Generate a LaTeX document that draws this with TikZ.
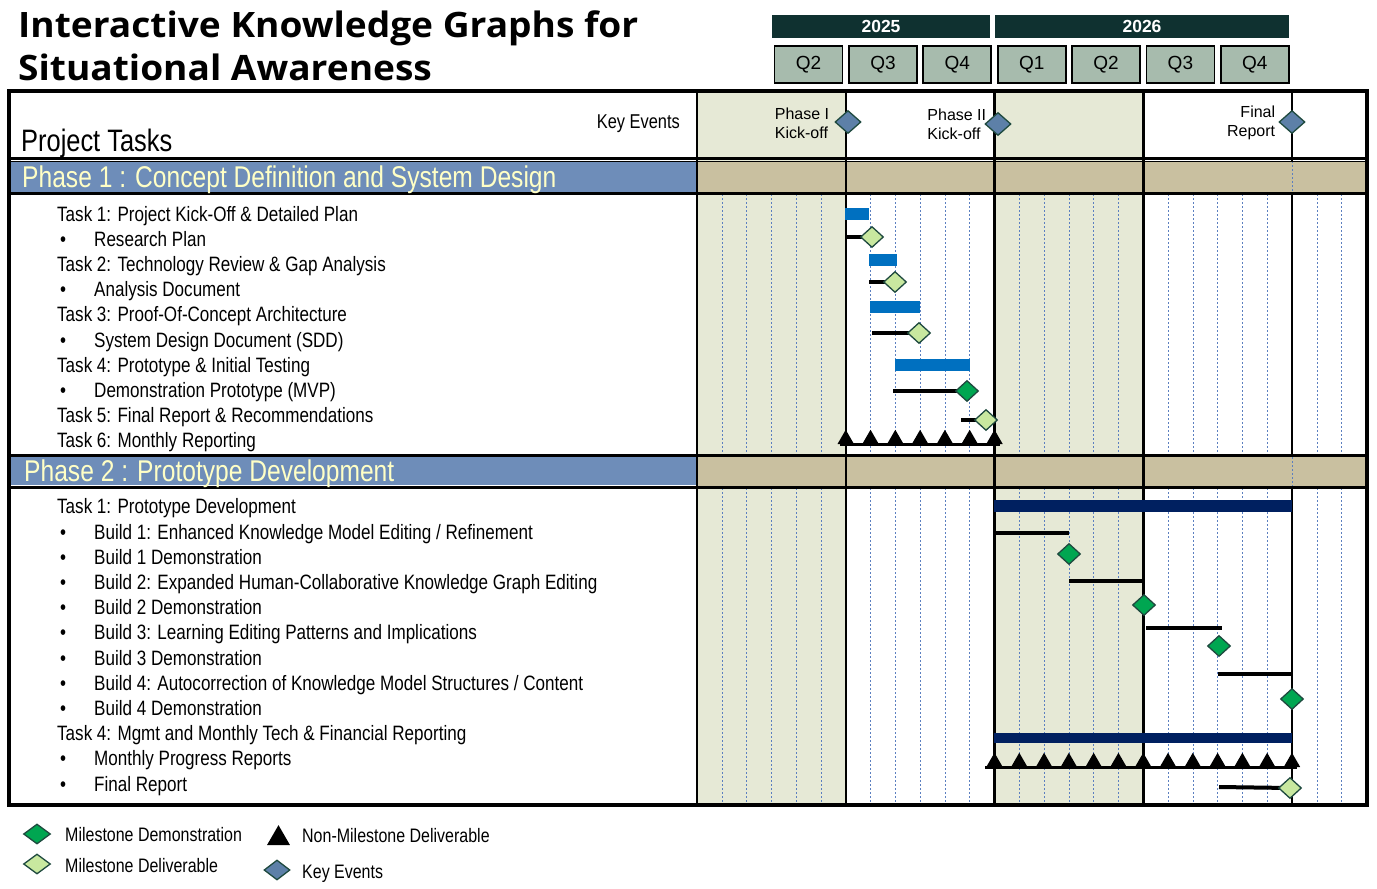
\documentclass[tikz,border=0pt]{standalone}
\usepackage{fontspec}
\setmainfont{Liberation Sans}
\newfontfamily\narrowfont[FakeStretch=0.82]{Liberation Sans}
\newfontfamily\titlefont[FakeStretch=1.06]{Open Sans}
\usetikzlibrary{
    positioning,      % relative placement of labels
    shapes.geometric  % diamond and triangle milestones
}
\definecolor{shadecol}{HTML}{E6E9D6}
\definecolor{bandtan}{HTML}{C9C0A0}
\definecolor{bandblue}{HTML}{6E8DB9}
\definecolor{phasetext}{HTML}{FFFFC6}
\definecolor{yearbar}{HTML}{0F3130}
\definecolor{qbox}{HTML}{A7BBAD}
\definecolor{taskblue}{HTML}{0070C0}
\definecolor{tasknavy}{HTML}{002060}
\definecolor{demogreen}{HTML}{00A651}
\definecolor{delivgreen}{HTML}{C8E89F}
\definecolor{eventblue}{HTML}{5D80A8}
\definecolor{diaedge}{HTML}{1F4A3F}
\definecolor{gridblue}{HTML}{5B7FC0}
\newcommand{\mw}{24.79}   % width of one month
\tikzset{
    title text/.style={anchor=base west, inner sep=0pt,
        font=\titlefont\bfseries\fontsize{35}{40}\selectfont},
    task text/.style={anchor=west, inner sep=0pt, text height=15pt, text depth=0pt,
        font=\narrowfont\fontsize{20.8}{24}\selectfont},
    phase text/.style={anchor=west, inner sep=0pt, text=phasetext, text height=21pt, text depth=0pt,
        font=\narrowfont\fontsize{30}{34}\selectfont},
    event text/.style={inner sep=0pt, font=\fontsize{16}{19}\selectfont},
    legend text/.style={anchor=west, inner sep=0pt, text height=14pt, text depth=0pt,
        font=\narrowfont\fontsize{19.5}{22}\selectfont},
    milestone/.style={diamond, draw=diaedge, line width=1.3pt, inner sep=0pt,
        minimum width=23pt, minimum height=21pt},
    demo/.style={milestone, fill=demogreen},
    deliv/.style={milestone, fill=delivgreen},
    key event/.style={milestone, fill=eventblue, minimum width=26pt, minimum height=23pt},
    nonmile/.style={regular polygon, regular polygon sides=3, fill=black, inner sep=0pt,
        minimum size=19pt},
    task line/.style={line width=4pt},
    blue bar/.style={fill=taskblue},
    navy bar/.style={fill=tasknavy},
    grid line/.style={gridblue, line width=0.5pt, dash pattern=on 1.5pt off 2.5pt},
    year bar/.style={fill=yearbar, text=white, inner sep=0pt, minimum height=23pt,
        font=\bfseries\fontsize{17.5}{20}\selectfont},
    quarter box/.style={draw, line width=1.8pt, fill=qbox, inner sep=0pt,
        minimum width=68pt, minimum height=37pt, font=\fontsize{19}{22}\selectfont}
}

\begin{document}
\begin{tikzpicture}[x=1pt, y=-1pt]
    \useasboundingbox (0,0) rectangle (1377,889);

    % title
    \node[title text] (title1) at (18,37) {Interactive Knowledge Graphs for};
    \node[title text] (title2) at (18,80) {Situational Awareness};

    % years and quarters
    \node[year bar, minimum width=218pt] (y2025) at (881,26.5) {2025};
    \node[year bar, minimum width=294pt] (y2026) at (1142,26.5) {2026};
    \foreach \q [count=\i from 0] in {Q2,Q3,Q4,Q1,Q2,Q3,Q4}
        \node[quarter box] (q\i) at ({697+74.37*(\i+1.5)},64.5) {\q};

    % shaded half years
    \fill[shadecol] (697,91) rectangle ({697+6*\mw},805);
    \fill[shadecol] ({697+12*\mw},91) rectangle ({697+18*\mw},805);

    % monthly grid
    \foreach \k in {1,2,3,4,5,7,8,9,10,11,13,14,15,16,17,19,20,21,22,23,25,26} {
        \draw[grid line] ({697+\mw*\k},194) -- ({697+\mw*\k},455);
        \draw[grid line] ({697+\mw*\k},488) -- ({697+\mw*\k},805);
    }

    % phase bands
    \fill[bandblue] (10,161) rectangle (697,192);
    \fill[bandtan] (697,161) rectangle (1366,192);
    \fill[bandblue] (10,457) rectangle (697,484.5);
    \fill[bandtan] (697,457) rectangle (1366,485.5);
    \draw[grid line] (1292,161) -- (1292,192);
    \draw[grid line] (1292,457) -- (1292,486);
    \draw[line width=3pt] (9,158.5) -- (1367,158.5);
    \draw[line width=1pt] (9,161.5) -- (1367,161.5);
    \draw[line width=3pt] (9,193.5) -- (1367,193.5);
    \draw[line width=3.2pt] (9,455.7) -- (1367,455.7);
    \draw[line width=3pt] (9,487.2) -- (1367,487.2);

    % half year lines
    \draw[line width=2pt] ({697+6*\mw},91) -- ({697+6*\mw},805);
    \draw[line width=2.8pt] ({697+12*\mw},91) -- ({697+12*\mw},805);
    \draw[line width=2.8pt] ({697+18*\mw},91) -- ({697+18*\mw},805);
    \draw[line width=2pt] (1292,91) -- (1292,161);
    \draw[line width=2pt] (1292,193) -- (1292,456);
    \draw[line width=2pt] (1292,487) -- (1292,805);
    \draw[line width=2pt] (697,91) -- (697,805);

    % frame
    \draw[line width=3.5pt] (9,91) rectangle (1367,805);

    % header texts
    \node[anchor=west, inner sep=0pt, text height=22pt, text depth=0pt,
        font=\narrowfont\fontsize{31}{34}\selectfont] (ptasks) at (21,140) {Project Tasks};
    \node[anchor=east, inner sep=0pt, text height=14pt, text depth=0pt,
        font=\narrowfont\fontsize{20}{24}\selectfont] (kevents) at (680,121) {Key Events};
    \node[phase text] (phase1) at (22,177) {Phase 1 : Concept Definition and System Design};
    \node[phase text] (phase2) at (24,471) {Phase 2 : Prototype Development};

    % key events
    \node[key event] (ev1) at (848,122) {};
    \node[event text, align=left, left=5pt of ev1, yshift=-1.5pt] (ev1 lbl) {Phase I\\Kick-off};
    \node[key event] (ev2) at (998,124) {};
    \node[event text, align=left, left=-2pt of ev2] (ev2 lbl) {Phase II\\Kick-off};
    \node[key event] (ev3) at (1292,122) {};
    \node[event text, align=right, left=3pt of ev3, yshift=-1pt] (ev3 lbl) {Final\\Report};

    % phase 1 tasks
    \node[task text] (p1t1) at (57,214) {Task 1: Project Kick-Off \& Detailed Plan};
    \node[task text] (p1d1) at (94,239) {Research Plan};
    \node[task text] (p1t2) at (57,264) {Task 2: Technology Review \& Gap Analysis};
    \node[task text] (p1d2) at (94,289) {Analysis Document};
    \node[task text] (p1t3) at (57,314) {Task 3: Proof-Of-Concept Architecture};
    \node[task text] (p1d3) at (94,340) {System Design Document (SDD)};
    \node[task text] (p1t4) at (57,365) {Task 4: Prototype \& Initial Testing};
    \node[task text] (p1d4) at (94,390) {Demonstration Prototype (MVP)};
    \node[task text] (p1t5) at (57,415) {Task 5: Final Report \& Recommendations};
    \node[task text] (p1t6) at (57,440) {Task 6: Monthly Reporting};
    \foreach \y in {239,289,340,390}
        \node[task text] (p1b\y) at (60,\y) {•};

    % phase 2 tasks
    \node[task text] (p2t1) at (57,506) {Task 1: Prototype Development};
    \node[task text] (p2b1) at (94,532) {Build 1: Enhanced Knowledge Model Editing / Refinement};
    \node[task text] (p2m1) at (94,557) {Build 1 Demonstration};
    \node[task text] (p2b2) at (94,582) {Build 2: Expanded Human-Collaborative Knowledge Graph Editing};
    \node[task text] (p2m2) at (94,607) {Build 2 Demonstration};
    \node[task text] (p2b3) at (94,632) {Build 3: Learning Editing Patterns and Implications};
    \node[task text] (p2m3) at (94,658) {Build 3 Demonstration};
    \node[task text] (p2b4) at (94,683) {Build 4: Autocorrection of Knowledge Model Structures / Content};
    \node[task text] (p2m4) at (94,708) {Build 4 Demonstration};
    \node[task text] (p2t4) at (57,733) {Task 4: Mgmt and Monthly Tech \& Financial Reporting};
    \node[task text] (p2d1) at (94,758) {Monthly Progress Reports};
    \node[task text] (p2d2) at (94,784) {Final Report};
    \foreach \y in {532,557,582,607,632,658,683,708,758,784}
        \node[task text] (p2bul\y) at (60,\y) {•};

    % phase 1 gantt
    \fill[blue bar] (845,208) rectangle (869,220);
    \fill[blue bar] (869,254) rectangle (897,266);
    \fill[blue bar] (870,301) rectangle (920,313);
    \fill[blue bar] (895,359) rectangle (970,371);
    \coordinate (rp s) at (845,237);  \coordinate (rp c) at (872,237);
    \coordinate (ad s) at (869,282);  \coordinate (ad c) at (895,282);
    \coordinate (sdd s) at (872,333); \coordinate (sdd c) at (919,333);
    \coordinate (mvp s) at (893,391); \coordinate (mvp c) at (967,391);
    \coordinate (fr s) at (961,420);  \coordinate (fr c) at (986,420);
    \draw[task line] (rp s) -- (rp c);
    \draw[task line] (ad s) -- (ad c);
    \draw[task line] (sdd s) -- (sdd c);
    \draw[task line] (mvp s) -- (mvp c);
    \draw[task line] (fr s) -- (fr c);
    \node[deliv] (rp) at (rp c) {};
    \node[deliv] (ad) at (ad c) {};
    \node[deliv] (sdd) at (sdd c) {};
    \node[demo] (mvp) at (mvp c) {};
    \node[deliv] (fr) at (fr c) {};
    \draw[line width=3pt] (840,444) -- (1000,444);
    \foreach \k in {0,...,6}
        \node[nonmile] (p1r\k) at ({697+6*\mw+\mw*\k},439.25) {};

    % phase 2 gantt
    \fill[navy bar] ({697+12*\mw},500) rectangle (1292,512);
    \draw[task line] ({697+12*\mw},533) -- (1069,533);
    \node[demo] (b1) at (1069,554) {};
    \draw[task line] (1069,581) -- (1145,581);
    \node[demo] (b2) at (1144,605) {};
    \draw[task line] (1146,628) -- (1222,628);
    \node[demo] (b3) at (1219,646) {};
    \draw[task line] (1218,674) -- (1292,674);
    \node[demo] (b4) at (1292,699) {};
    \fill[navy bar] ({697+12*\mw},733) rectangle (1292,743);
    \draw[line width=3pt] (985,767) -- (1297,767);
    \foreach \k in {0,...,12}
        \node[nonmile] (p2r\k) at ({697+12*\mw+\mw*\k},762.25) {};
    \coordinate (fin s) at (1219,787); \coordinate (fin c) at (1290,788);
    \draw[task line] (fin s) -- (fin c);
    \node[deliv] (fin) at (fin c) {};

    % legend
    \node[demo, minimum width=27pt, minimum height=20pt] (lg demo) at (37,834) {};
    \node[legend text] (lg demo lbl) at (65,834) {Milestone Demonstration};
    \node[deliv, minimum width=27pt, minimum height=20pt] (lg deliv) at (37,864) {};
    \node[legend text] (lg deliv lbl) at (65,865) {Milestone Deliverable};
    \node[nonmile, minimum size=26.5pt] (lg nonmile) at (278.5,838.4) {};
    \node[legend text] (lg nonmile lbl) at (302,835) {Non-Milestone Deliverable};
    \node[key event, minimum width=26pt, minimum height=20pt] (lg event) at (277,870) {};
    \node[legend text] (lg event lbl) at (302,871) {Key Events};
\end{tikzpicture}
\end{document}
